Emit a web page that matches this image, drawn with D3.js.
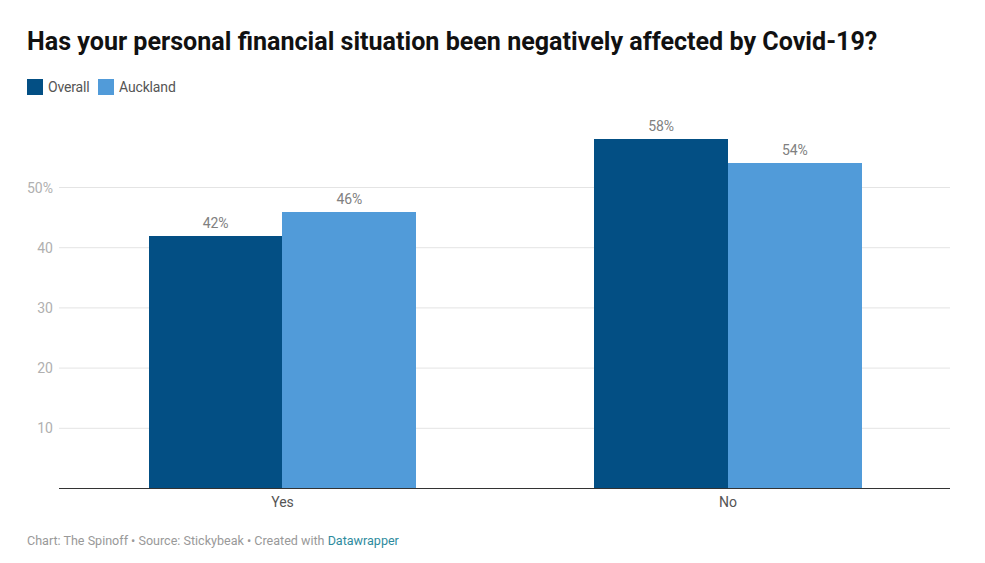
<!DOCTYPE html>
<html>
<head>
<meta charset="utf-8">
<script src="https://cdn.jsdelivr.net/npm/d3@7"></script>
<style>
  html, body { margin: 0; padding: 0; background: #fff; }
  text { font-family: Roboto, sans-serif; }
</style>
</head>
<body>
<div id="chart"></div>
<script>
const categories = ['Yes', 'No'];
const seriesNames = ['Overall', 'Auckland'];
const overall = [42, 58];
const auckland = [46, 54];
const yTicks = [10, 20, 30, 40, 50];
const colors = ['#034f84', '#519bd9'];

const width = 985, height = 563;
const svg = d3.select('#chart').append('svg')
    .attr('width', width).attr('height', height)
    .style('display', 'block');

svg.append('text')
    .attr('x', 27).attr('y', 49.5)
    .attr('font-size', 25.1).attr('font-weight', 700).attr('fill', '#111')
    .text('Has your personal financial situation been negatively affected by Covid-19?');

// legend
const legendX = [27, 98];
const legend = svg.append('g').selectAll('g')
    .data(seriesNames)
    .join('g')
    .attr('transform', (d, i) => `translate(${legendX[i]},79)`);
legend.append('rect').attr('width', 16).attr('height', 16).attr('fill', (d, i) => colors[i]);
legend.append('text')
    .attr('x', 21).attr('y', 13)
    .attr('font-size', 14).attr('letter-spacing', -0.15).attr('fill', '#555')
    .text(d => d);

const x = d3.scaleBand().domain(categories).range([59.7, 950.7]).paddingInner(0.4).paddingOuter(0.2);
const x1 = d3.scaleBand().domain(seriesNames).range([0, x.bandwidth()]);
const y = d3.scaleLinear().domain([0, 50]).range([488.5, 187.5]);

// gridlines and y labels
const grid = svg.append('g').selectAll('g')
    .data(yTicks)
    .join('g')
    .attr('transform', d => `translate(0,${y(d)})`);
grid.append('line')
    .attr('x1', 59).attr('x2', 950)
    .attr('stroke', '#e4e4e4').attr('stroke-width', 1);
grid.append('text')
    .attr('x', 53).attr('y', 5)
    .attr('text-anchor', 'end')
    .attr('font-size', 14).attr('fill', '#b0b0b0')
    .text(d => d === 50 ? d + '%' : d);

// bars
const rows = categories.map((c, i) => ({category: c, values: [overall[i], auckland[i]]}));
const groups = svg.append('g').selectAll('g')
    .data(rows)
    .join('g')
    .attr('transform', d => `translate(${x(d.category)},0)`);
const cells = groups.selectAll('g')
    .data(d => d.values.map((v, i) => ({name: seriesNames[i], value: v, i: i})))
    .join('g');
cells.append('rect')
    .attr('x', d => x1(d.name))
    .attr('y', d => y(d.value))
    .attr('width', x1.bandwidth())
    .attr('height', d => y(0) - y(d.value))
    .attr('fill', d => colors[d.i])
    .attr('shape-rendering', 'crispEdges');
cells.append('text')
    .attr('x', d => x1(d.name) + x1.bandwidth() / 2)
    .attr('y', d => y(d.value) - 8)
    .attr('text-anchor', 'middle')
    .attr('font-size', 14).attr('letter-spacing', -0.15).attr('fill', '#808080')
    .text(d => d.value + '%');

// baseline and category labels
svg.append('line')
    .attr('x1', 59).attr('x2', 950)
    .attr('y1', y(0)).attr('y2', y(0))
    .attr('stroke', '#333').attr('stroke-width', 1);
svg.append('g').selectAll('text')
    .data(categories)
    .join('text')
    .attr('x', d => x(d) + x.bandwidth() / 2)
    .attr('y', 507)
    .attr('text-anchor', 'middle')
    .attr('font-size', 14).attr('letter-spacing', -0.15).attr('fill', '#555')
    .text(d => d);

// footer
const footer = svg.append('text')
    .attr('x', 27).attr('y', 545)
    .attr('font-size', 12.55).attr('fill', '#999');
footer.append('tspan').text('Chart: The Spinoff • Source: Stickybeak • Created with ');
footer.append('tspan').attr('fill', '#2e8b9e').text('Datawrapper');
</script>
</body>
</html>
